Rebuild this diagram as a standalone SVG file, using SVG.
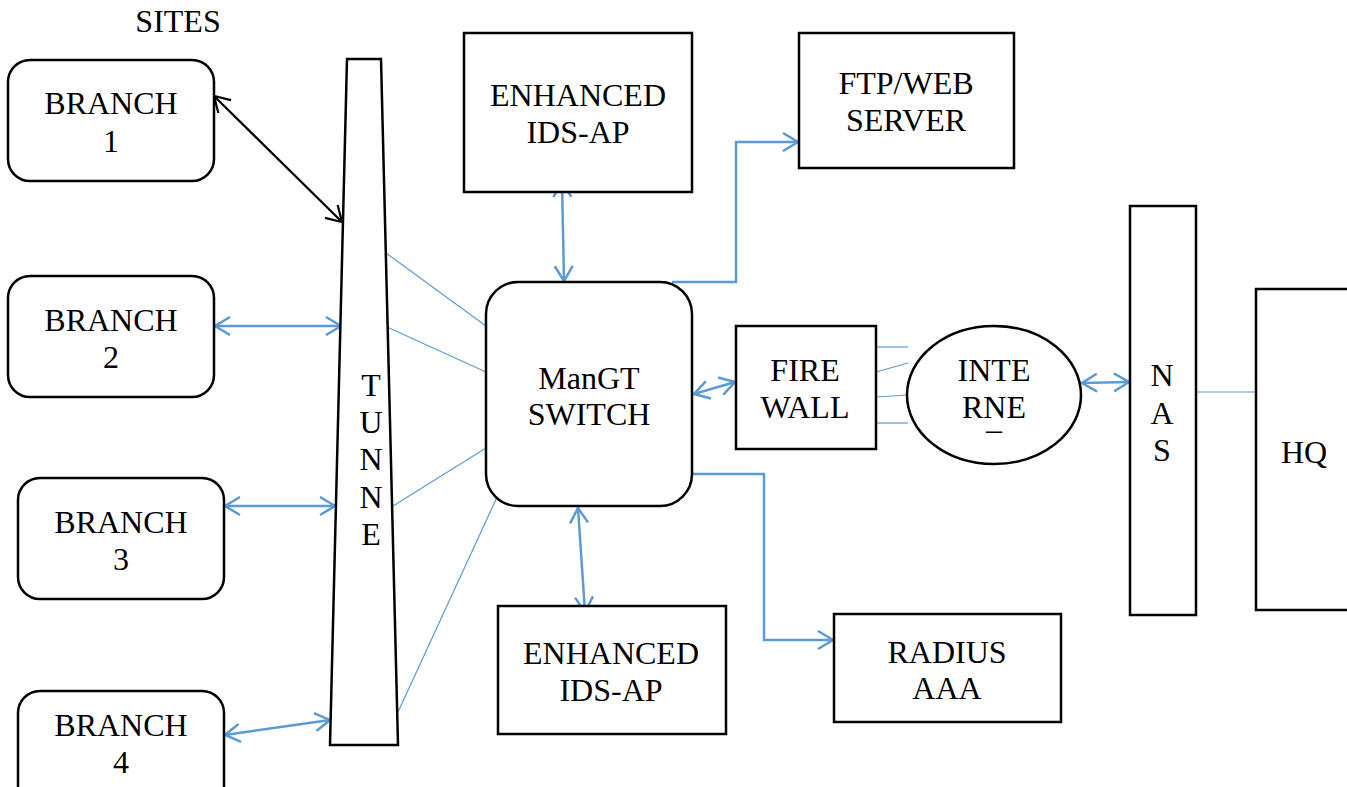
<svg xmlns="http://www.w3.org/2000/svg" width="1347" height="787" viewBox="0 0 1347 787">
<style>
.box{fill:#fff;stroke:#000;stroke-width:2.5}
.t{font-family:"Liberation Serif","Times New Roman",serif;font-size:32px;fill:#000;text-anchor:middle}
.blue{fill:none;stroke:#5B9BD5;stroke-width:2.5}
.thin{fill:none;stroke:#5B9BD5;stroke-width:1.2}
.blk{fill:none;stroke:#000;stroke-width:2.2}
</style>
<defs>
<marker id="ab" viewBox="0 0 18 20" refX="16" refY="10" markerWidth="18" markerHeight="20" markerUnits="userSpaceOnUse" orient="auto-start-reverse">
<path d="M1,1 L16,10 L1,19" fill="none" stroke="#5B9BD5" stroke-width="2.5"/>
</marker>
<marker id="ak" viewBox="0 0 18 20" refX="16" refY="10" markerWidth="18" markerHeight="20" markerUnits="userSpaceOnUse" orient="auto-start-reverse">
<path d="M1,1 L16,10 L1,19" fill="none" stroke="#000" stroke-width="2.2"/>
</marker>
</defs>
<rect width="1347" height="787" fill="#fff"/>
<text class="t" x="178" y="32">SITES</text>
<g id="connectors">
<line class="blk" x1="214" y1="96" x2="342" y2="222" marker-start="url(#ak)" marker-end="url(#ak)"/>
<line class="blue" x1="215" y1="326" x2="341" y2="326" marker-start="url(#ab)" marker-end="url(#ab)"/>
<line class="blue" x1="225" y1="506" x2="335" y2="506" marker-start="url(#ab)" marker-end="url(#ab)"/>
<line class="blue" x1="225" y1="735" x2="330" y2="720" marker-start="url(#ab)" marker-end="url(#ab)"/>
<line class="thin" x1="386" y1="253" x2="486" y2="326"/>
<line class="thin" x1="387" y1="327" x2="486" y2="372"/>
<line class="thin" x1="393" y1="506" x2="486" y2="448"/>
<line class="thin" x1="398" y1="712" x2="498" y2="495"/>
<line class="blue" x1="562" y1="182" x2="564" y2="281" marker-start="url(#ab)" marker-end="url(#ab)"/>
<polyline class="blue" points="672,282 736,282 736,142 798,142" marker-end="url(#ab)"/>
<polyline class="blue" points="693,474 764,474 764,640 833,640" marker-end="url(#ab)"/>
<line class="blue" x1="578" y1="508" x2="585" y2="612" marker-start="url(#ab)" marker-end="url(#ab)"/>
<line class="blue" x1="694" y1="394" x2="735" y2="382" marker-start="url(#ab)" marker-end="url(#ab)"/>
<line class="thin" x1="876" y1="347" x2="908" y2="347"/>
<line class="thin" x1="876" y1="372" x2="908" y2="363"/>
<line class="thin" x1="876" y1="397" x2="908" y2="395"/>
<line class="thin" x1="876" y1="423" x2="908" y2="423"/>
<line class="blue" x1="1082" y1="383" x2="1129" y2="382" marker-start="url(#ab)" marker-end="url(#ab)"/>
<line class="thin" x1="1197" y1="392" x2="1256" y2="392"/>
</g>
<g id="branch1">
<rect class="box" x="8" y="60" width="206" height="121" rx="22"/>
<text class="t" x="111" y="114">BRANCH</text>
<text class="t" x="111" y="152">1</text>
</g>
<g id="branch2">
<rect class="box" x="8" y="276" width="206" height="121" rx="22"/>
<text class="t" x="111" y="331">BRANCH</text>
<text class="t" x="111" y="368">2</text>
</g>
<g id="branch3">
<rect class="box" x="18" y="478" width="206" height="121" rx="22"/>
<text class="t" x="121" y="533">BRANCH</text>
<text class="t" x="121" y="570">3</text>
</g>
<g id="branch4">
<rect class="box" x="18" y="691" width="206" height="121" rx="22"/>
<text class="t" x="121" y="736">BRANCH</text>
<text class="t" x="121" y="773">4</text>
</g>
<g id="tunnel">
<polygon class="box" points="347,59 381,59 398,745 330,745"/>
<text class="t" x="371" y="396">T</text>
<text class="t" x="371" y="433">U</text>
<text class="t" x="371" y="470">N</text>
<text class="t" x="371" y="508">N</text>
<text class="t" x="371" y="545">E</text>
</g>
<g id="ids-top">
<rect class="box" x="464" y="33" width="228" height="159"/>
<text class="t" x="578" y="106">ENHANCED</text>
<text class="t" x="578" y="143">IDS-AP</text>
</g>
<g id="ftp">
<rect class="box" x="799" y="33" width="215" height="135"/>
<text class="t" x="906" y="94">FTP/WEB</text>
<text class="t" x="906" y="131">SERVER</text>
</g>
<g id="switch">
<rect class="box" x="486" y="282" width="206" height="224" rx="32"/>
<text class="t" x="589" y="389">ManGT</text>
<text class="t" x="589" y="425">SWITCH</text>
</g>
<g id="firewall">
<rect class="box" x="736" y="326" width="140" height="123"/>
<text class="t" x="805" y="381">FIRE</text>
<text class="t" x="805" y="418">WALL</text>
</g>
<g id="internet">
<ellipse class="box" cx="994" cy="395" rx="87" ry="69"/>
<text class="t" x="994" y="381">INTE</text>
<text class="t" x="994" y="418">RNE</text>
<text class="t" x="994" y="429">_</text>
</g>
<g id="nas">
<rect class="box" x="1130" y="206" width="66" height="409"/>
<text class="t" x="1162" y="386">N</text>
<text class="t" x="1162" y="424">A</text>
<text class="t" x="1162" y="461">S</text>
</g>
<g id="hq">
<rect class="box" x="1256" y="289" width="100" height="321"/>
<text class="t" x="1304" y="463">HQ</text>
</g>
<g id="ids-bottom">
<rect class="box" x="498" y="606" width="228" height="128"/>
<text class="t" x="611" y="664">ENHANCED</text>
<text class="t" x="611" y="701">IDS-AP</text>
</g>
<g id="radius">
<rect class="box" x="834" y="614" width="227" height="108"/>
<text class="t" x="947" y="663">RADIUS</text>
<text class="t" x="947" y="699">AAA</text>
</g>
</svg>
